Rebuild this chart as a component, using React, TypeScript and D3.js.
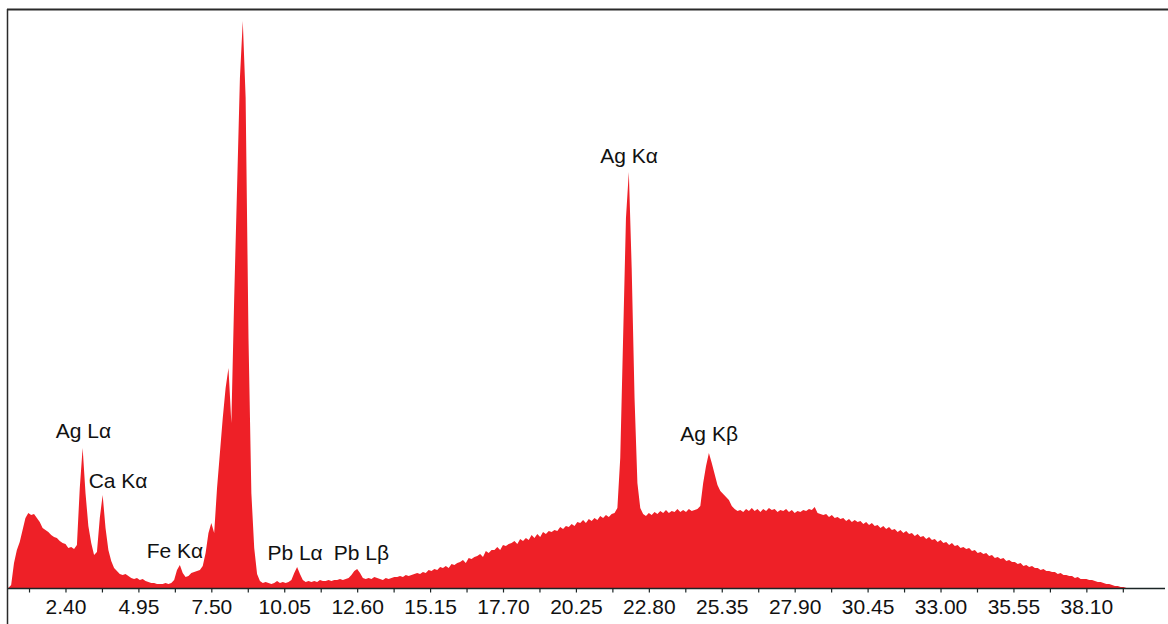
import React, { useRef, useEffect } from "react";
import * as d3 from "d3";

// spectrum channels, 0.1 keV wide, first channel at 0.4 keV
const channelStart = 0.4;
const channelWidth = 0.1;

const countsLow = [
  0, 3, 25, 38, 46, 58, 70, 75, 73, 74,
  70, 66, 60, 58, 56, 53, 51, 50, 47, 45,
  44, 40, 41, 39, 43, 100, 140, 95, 62, 45,
  33, 36, 70, 93, 60, 38, 27, 20, 17, 14,
  13, 14, 12, 10, 9, 10, 8, 9, 7, 6,
  5, 5, 4, 4, 4, 5, 4, 5, 8, 18,
  23, 15, 11, 12, 15, 16, 17, 18, 22, 35,
  55, 65, 55, 100, 135, 170, 200, 220, 165, 290,
  400, 510, 567, 490, 250, 95, 40, 14, 7, 5,
  6, 5, 4, 5, 7, 5, 6, 5, 6, 8,
];

const countsMid = [
  15, 21, 14, 8, 6, 7, 6, 7, 6, 8,
  7, 7, 8, 7, 8, 8, 9, 8, 9, 10,
  13, 17, 19, 15, 10, 9, 10, 9, 11, 10,
  9, 8, 10, 9, 10, 11, 11, 12, 11, 13,
  12, 13, 14, 15, 14, 16, 15, 18, 17, 19,
  18, 21, 20, 22, 20, 24, 23, 25, 26, 28,
  25, 30, 29, 31, 32, 34, 31, 37, 35, 38,
  38, 41, 38, 43, 42, 44, 45, 47, 44, 49,
  47, 50, 48, 53, 50, 54, 51, 56, 54, 57,
  56, 58, 57, 61, 59, 62, 61, 64, 62, 66,
];

const countsHigh = [
  65, 68, 65, 69, 67, 70, 68, 72, 70, 73,
  71, 74, 75, 80, 130, 250, 370, 416, 320, 190,
  105, 80, 74, 72, 75, 73, 76, 74, 77, 75,
  78, 75, 77, 76, 79, 76, 78, 76, 79, 77,
  78, 79, 82, 105, 122, 135, 125, 114, 103, 97,
  94, 91, 88, 82, 79, 77, 78, 76, 79, 77,
  80, 77, 79, 76, 79, 77, 80, 78, 79, 76,
  78, 77, 79, 76, 78, 75, 77, 76, 78, 77,
  79, 78, 81, 75, 74, 73, 74, 71, 73, 70,
  71, 69, 70, 67, 69, 66, 68, 66, 67, 64,
];

const countsTail = [
  66, 63, 65, 62, 63, 60, 62, 59, 61, 58,
  59, 56, 58, 55, 57, 54, 55, 52, 54, 51,
  52, 49, 51, 48, 49, 46, 48, 45, 46, 43,
  45, 42, 43, 40, 41, 39, 40, 37, 38, 35,
  36, 34, 35, 32, 33, 30, 31, 29, 30, 27,
  28, 26, 26, 24, 25, 22, 23, 21, 22, 20,
  20, 18, 19, 17, 17, 16, 16, 14, 15, 13,
  13, 12, 12, 10, 11, 9, 9, 9, 8, 8,
  7, 6, 6, 5, 4, 4, 3, 2, 2, 1,
  1, 0, 0, 0, 0, 0, 0, 0, 0, 0,
  0, 0, 0, 0, 0,
];

const tickLabels = [
  "2.40", "4.95", "7.50", "10.05", "12.60", "15.15", "17.70", "20.25",
  "22.80", "25.35", "27.90", "30.45", "33.00", "35.55", "38.10",
];
const minorStep = 1.275;

const peakNames = ["Ag Lα", "Ca Kα", "Fe Kα", "Pb Lα", "Pb Lβ", "Ag Kα", "Ag Kβ"];
const labelEnergies = [3.03, 4.24, 6.23, 10.43, 12.75, 22.11, 24.91];
const labelCounts = [150, 100, 30, 28, 28, 425, 147];

const W = 1168;
const H = 624;
const FONT = "'Liberation Sans', Arial, Helvetica, sans-serif";
const RED = "#ee2027";

export default function App() {
  const svgRef = useRef<SVGSVGElement>(null);

  useEffect(() => {
    const svg = d3.select(svgRef.current);
    svg.selectAll("*").remove();

    const counts = [...countsLow, ...countsMid, ...countsHigh, ...countsTail];
    const data = counts.map((c, i) => ({ e: channelStart + i * channelWidth, c }));

    const x = d3.scaleLinear().domain([0.39, 40.85]).range([8, 1165]);
    const y = d3.scaleLinear().domain([0, 578]).range([588, 10]);

    const area = d3
      .area<{ e: number; c: number }>()
      .x((d) => x(d.e))
      .y0(y(0))
      .y1((d) => y(d.c))
      .curve(d3.curveLinear);

    svg.append("path").datum(data).attr("fill", RED).attr("d", area);

    // ticks: labelled ones plus one halfway between
    const major = tickLabels.map(Number);
    const allTicks = [major[0] - minorStep];
    major.forEach((v) => allTicks.push(v, v + minorStep));

    const axis = svg
      .append("g")
      .attr("transform", `translate(0,${y(0) + 0.5})`)
      .call(
        d3
          .axisBottom(x)
          .tickValues(allTicks)
          .tickSize(4)
          .tickSizeOuter(0)
          .tickPadding(7)
          .tickFormat((d) => {
            const idx = major.findIndex((m) => Math.abs(m - +d) < 1e-6);
            return idx >= 0 ? tickLabels[idx] : "";
          })
      );
    axis.select(".domain").attr("stroke", "#1b2526").attr("stroke-width", 1.5)
      .attr("d", `M8,0H1165`);
    axis.selectAll(".tick line").attr("stroke", "#1b2526").attr("stroke-width", 1.2);
    axis
      .selectAll(".tick text")
      .attr("fill", "#111")
      .style("font-family", FONT)
      .style("font-size", "21px");

    // frame: top and left edges
    svg.append("line").attr("x1", 7).attr("x2", W).attr("y1", 9.5).attr("y2", 9.5)
      .attr("stroke", "#2a2a2a").attr("stroke-width", 2);
    svg.append("line").attr("x1", 7.5).attr("x2", 7.5).attr("y1", 9).attr("y2", H)
      .attr("stroke", "#2a2a2a").attr("stroke-width", 1.5);

    svg
      .append("g")
      .selectAll("text")
      .data(peakNames)
      .join("text")
      .attr("x", (_, i) => x(labelEnergies[i]))
      .attr("y", (_, i) => y(labelCounts[i]))
      .attr("text-anchor", "middle")
      .attr("fill", "#111")
      .style("font-family", FONT)
      .style("font-size", "21px")
      .text((d) => d);
  }, []);

  return (
    <div style={{ position: "absolute", left: 0, top: 0 }}>
      <svg ref={svgRef} width={W} height={H} style={{ display: "block", background: "#fff" }}></svg>
    </div>
  );
}
